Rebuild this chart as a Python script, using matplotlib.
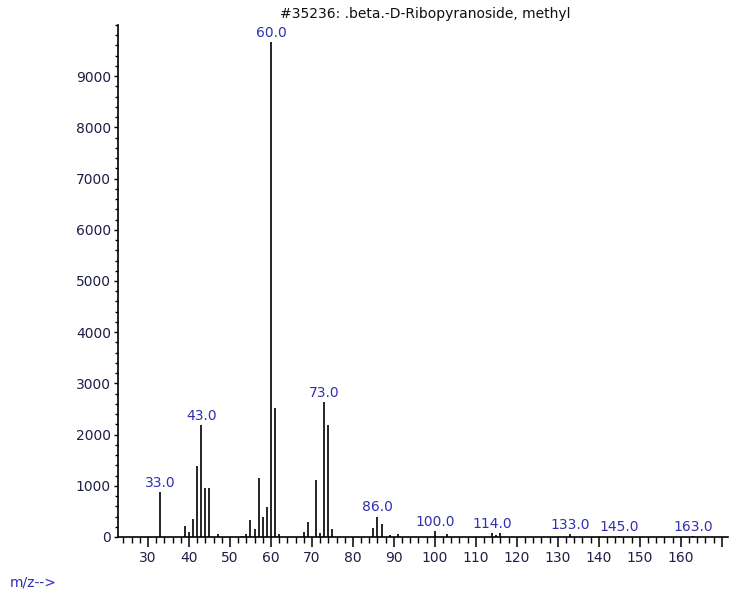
import matplotlib.pyplot as plt
from matplotlib.ticker import MultipleLocator

plt.rcParams['font.family'] = ['DejaVu Sans']

# m/z and abundance
mz = [33, 39, 40, 41, 42, 43, 44, 45, 47, 53, 54, 55, 56, 57, 58, 59, 60, 61, 62,
      68, 69, 71, 72, 73, 74, 75, 85, 86, 87, 89, 91, 100, 103, 114, 115, 116,
      133, 145, 163]
abundance = [880, 210, 100, 350, 1380, 2180, 950, 950, 50, 25, 50, 325, 150, 1160,
             400, 580, 9660, 2510, 50, 100, 300, 1110, 80, 2640, 2180, 150, 175,
             400, 255, 30, 50, 115, 50, 85, 45, 85, 55, 15, 15]
labelled = [33, 43, 60, 73, 86, 100, 114, 133, 145, 163]

title = "#35236: .beta.-D-Ribopyranoside, methyl"
label_color = '#3030b0'
text_color = '#1e1e48'

fig = plt.figure(figsize=(7.31, 5.97), dpi=100)
ax = fig.add_axes([118 / 731, 1 - 537 / 597, 610 / 731, 512 / 597])

ax.vlines(mz, 0, abundance, colors='black', linewidth=1.2)

# peak labels
for m in labelled:
    h = abundance[mz.index(m)]
    ax.annotate(f"{m:.1f}", xy=(m, h), xytext=(0, 1.5), textcoords='offset points',
                ha='center', va='bottom', fontsize=10, color=label_color)

ax.set_xlim(22.7, 171.5)
ax.set_ylim(0, 10000)

ax.xaxis.set_minor_locator(MultipleLocator(2))
ax.yaxis.set_minor_locator(MultipleLocator(200))
ax.set_xticks(range(30, 171, 10))
ax.set_xticklabels([str(v) if v <= 160 else '' for v in range(30, 171, 10)])
ax.set_yticks(range(0, 9001, 1000))

for s in ['top', 'right']:
    ax.spines[s].set_visible(False)
ax.spines['left'].set_linewidth(1.2)
ax.spines['bottom'].set_linewidth(1.2)

ax.tick_params(axis='x', which='major', direction='out', length=7, width=1.1,
               labelsize=10, labelcolor=text_color, pad=3)
ax.tick_params(axis='x', which='minor', direction='out', length=4, width=1.0)
ax.tick_params(axis='y', which='major', direction='out', length=3, width=1.0,
               labelsize=10, labelcolor=text_color, pad=2)
ax.tick_params(axis='y', which='minor', direction='out', length=2, width=1.0)

fig.text(425 / 731, 1 - 14 / 597, title, ha='center', va='center', fontsize=10,
         color='#101010')
fig.text(10 / 731, 1 - 582 / 597, "m/z-->", ha='left', va='center', fontsize=10,
         color=label_color)

fig.savefig('out.png', dpi=100)
